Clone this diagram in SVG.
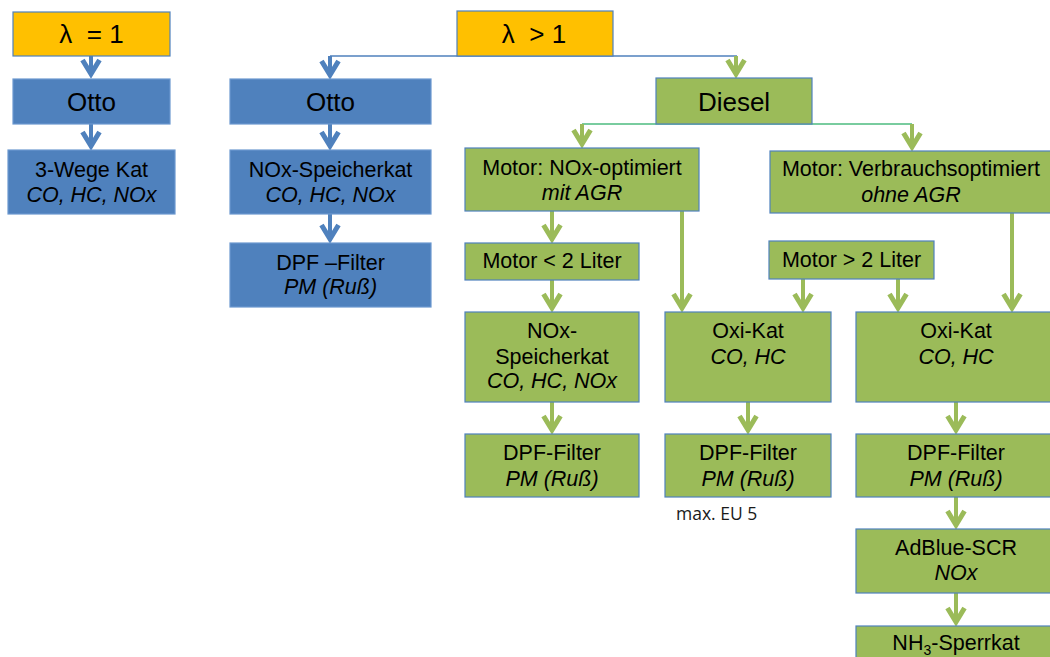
<svg xmlns="http://www.w3.org/2000/svg" width="1050" height="657" viewBox="0 0 1050 657">
<style>
  text { font-family: "Liberation Sans", Arial, sans-serif; fill: #000; text-anchor: middle; }
  .big { font-size: 26px; }
  .t { font-size: 21.5px; }
  .i { font-style: italic; }
  .note { font-family: "Open Sans", "Liberation Sans", sans-serif; font-size: 17.5px; text-anchor: start; fill: #1a1a1a; }
  .or { fill: #FFC000; stroke: #4F81BD; stroke-width: 1.2; }
  .bl { fill: #4F81BD; stroke: #6C98CF; stroke-width: 1.2; }
  .gr { fill: #9BBB59; stroke: #4F81BD; stroke-width: 1.2; }
  .ab { stroke: #4F81BD; stroke-width: 4; fill: none; marker-end: url(#hb); }
  .ag { stroke: #9BBB59; stroke-width: 4; fill: none; marker-end: url(#hg); }
  .lb { stroke: #4F81BD; stroke-width: 1.5; fill: none; }
  .lg { stroke: #4CBB7F; stroke-width: 1.5; fill: none; }
</style>
<defs>
  <marker id="hb" markerUnits="userSpaceOnUse" viewBox="-20 -16 36 32" markerWidth="36" markerHeight="32" refX="0" refY="0" orient="auto" overflow="visible">
    <path d="M-14,-8.5 L0,0 L-14,8.5" fill="none" stroke="#4F81BD" stroke-width="5" stroke-linejoin="miter"/>
  </marker>
  <marker id="hg" markerUnits="userSpaceOnUse" viewBox="-20 -16 36 32" markerWidth="36" markerHeight="32" refX="0" refY="0" orient="auto" overflow="visible">
    <path d="M-14,-8.5 L0,0 L-14,8.5" fill="none" stroke="#9BBB59" stroke-width="5" stroke-linejoin="miter"/>
  </marker>
</defs>

<g id="connectors">
  <path class="lb" d="M330,56 H737"/>
  <path class="lg" d="M582,124 H912"/>
  <path class="ab" d="M91,56 V74"/>
  <path class="ab" d="M91,124 V146"/>
  <path class="ab" d="M330,56 V75"/>
  <path class="ab" d="M330,124 V146"/>
  <path class="ab" d="M330,214 V239"/>
  <path class="ag" d="M736,56 V74"/>
  <path class="ag" d="M582,124 V144"/>
  <path class="ag" d="M912,124 V147"/>
  <path class="ag" d="M552,211 V239"/>
  <path class="ag" d="M682,211 V308"/>
  <path class="ag" d="M552,280 V308"/>
  <path class="ag" d="M803,279 V308"/>
  <path class="ag" d="M898,279 V308"/>
  <path class="ag" d="M1012,213 V308"/>
  <path class="ag" d="M552,402 V430"/>
  <path class="ag" d="M748,402 V430"/>
  <path class="ag" d="M956,402 V430"/>
  <path class="ag" d="M956,497 V525"/>
  <path class="ag" d="M956,593 V622"/>
</g>

<g id="lambda1"><rect class="or" x="13" y="12" width="157" height="44"/><text class="big" x="91.5" y="43" xml:space="preserve">λ  = 1</text></g>
<g id="otto1"><rect class="bl" x="13" y="79" width="157" height="45"/><text class="big" x="91.5" y="111">Otto</text></g>
<g id="dreiwege"><rect class="bl" x="8" y="150" width="167" height="64"/><text class="t" x="91.5" y="177">3-Wege Kat</text><text class="t i" x="91.5" y="202">CO, HC, NOx</text></g>

<g id="lambda2"><rect class="or" x="457" y="11" width="156" height="45"/><text class="big" x="534" y="43" xml:space="preserve">λ  &gt; 1</text></g>
<g id="otto2"><rect class="bl" x="230" y="79" width="201" height="45"/><text class="big" x="330.5" y="111">Otto</text></g>
<g id="speicherkat-otto"><rect class="bl" x="230" y="150" width="201" height="64"/><text class="t" x="330.5" y="177">NOx-Speicherkat</text><text class="t i" x="330.5" y="202">CO, HC, NOx</text></g>
<g id="dpf-otto"><rect class="bl" x="230" y="243" width="201" height="64"/><text class="t" x="330.5" y="270">DPF –Filter</text><text class="t i" x="330.5" y="294">PM (Ruß)</text></g>

<g id="diesel"><rect class="gr" x="656" y="78" width="156" height="46"/><text class="big" x="734" y="111">Diesel</text></g>
<g id="motor-nox"><rect class="gr" x="465" y="148" width="234" height="63"/><text class="t" x="582" y="175">Motor: NOx-optimiert</text><text class="t i" x="582" y="200">mit AGR</text></g>
<g id="motor-verbrauch"><rect class="gr" x="770" y="151" width="284" height="62"/><text class="t" x="911" y="176">Motor: Verbrauchsoptimiert</text><text class="t i" x="911" y="202">ohne AGR</text></g>
<g id="motor-kleiner2"><rect class="gr" x="465" y="243" width="174" height="37"/><text class="t" x="552" y="268">Motor &lt; 2 Liter</text></g>
<g id="motor-groesser2"><rect class="gr" x="769" y="241" width="165" height="38"/><text class="t" x="851.5" y="267">Motor &gt; 2 Liter</text></g>

<g id="speicherkat-diesel"><rect class="gr" x="465" y="312" width="174" height="90"/><text class="t" x="552" y="338">NOx-</text><text class="t" x="552" y="364">Speicherkat</text><text class="t i" x="552" y="388">CO, HC, NOx</text></g>
<g id="oxikat1"><rect class="gr" x="665" y="312" width="166" height="90"/><text class="t" x="748" y="338">Oxi-Kat</text><text class="t i" x="748" y="364">CO, HC</text></g>
<g id="oxikat2"><rect class="gr" x="856" y="312" width="200" height="90"/><text class="t" x="956" y="338">Oxi-Kat</text><text class="t i" x="956" y="364">CO, HC</text></g>

<g id="dpf1"><rect class="gr" x="465" y="434" width="174" height="63"/><text class="t" x="552" y="460">DPF-Filter</text><text class="t i" x="552" y="486">PM (Ruß)</text></g>
<g id="dpf2"><rect class="gr" x="665" y="434" width="166" height="63"/><text class="t" x="748" y="460">DPF-Filter</text><text class="t i" x="748" y="486">PM (Ruß)</text></g>
<g id="dpf3"><rect class="gr" x="856" y="434" width="200" height="63"/><text class="t" x="956" y="460">DPF-Filter</text><text class="t i" x="956" y="486">PM (Ruß)</text></g>
<g id="note-eu5"><text class="note" x="676" y="520">max. EU 5</text></g>

<g id="adblue"><rect class="gr" x="856" y="529" width="200" height="64"/><text class="t" x="956" y="555">AdBlue-SCR</text><text class="t i" x="956" y="580">NOx</text></g>
<g id="nh3"><rect class="gr" x="856" y="626" width="200" height="45"/><text class="t" x="956" y="650">NH<tspan font-size="14" dy="5">3</tspan><tspan dy="-5">-Sperrkat</tspan></text></g>
</svg>
